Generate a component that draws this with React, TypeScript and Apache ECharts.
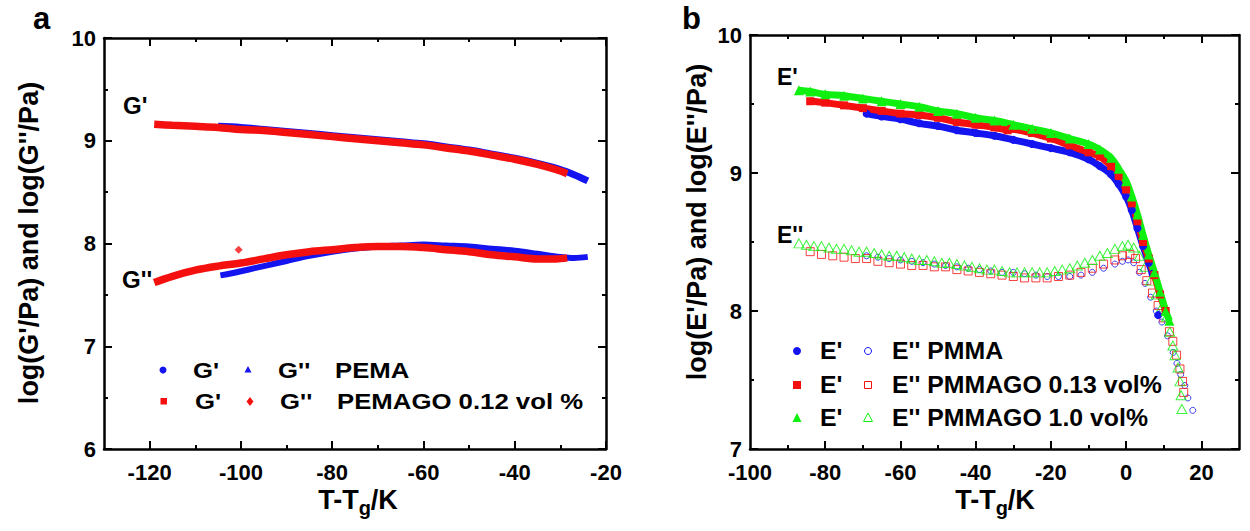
import React, { useEffect, useRef } from "react";
import * as echarts from "echarts";

const FONT = '"Liberation Sans", Arial, Helvetica, sans-serif';
const BLUE = "#1414f0";
const RED = "#f51010";
const GREEN = "#10f010";

// ---------------- Panel a (PEMA / PEMAGO) ----------------
const aXLabelValues = [-120, -100, -80, -60, -40, -20];
const aXMajorTicks = [-120, -100, -80, -60, -40, -20];
const aXMinorTicks = [-110, -90, -70, -50, -30];
const aXRange = [-130, -20];
const aYRange = [6, 10];

const pemaGp = [
  [-105, 9.14], [-100, 9.13], [-95, 9.11], [-90, 9.09], [-85, 9.07], [-80, 9.05],
  [-75, 9.03], [-70, 9.01], [-65, 8.99], [-60, 8.97], [-55, 8.94], [-50, 8.91],
  [-45, 8.87], [-40, 8.83], [-35, 8.78], [-30, 8.72], [-27, 8.67], [-24, 8.61],
];
const pemagoGp = [
  [-119, 9.16], [-115, 9.15], [-110, 9.14], [-105, 9.13], [-100, 9.11], [-95, 9.1],
  [-90, 9.08], [-85, 9.06], [-80, 9.04], [-75, 9.02], [-70, 9.0], [-65, 8.98],
  [-60, 8.96], [-55, 8.93], [-50, 8.9], [-45, 8.86], [-40, 8.82], [-35, 8.77],
  [-31, 8.72], [-28.5, 8.68],
];
const pemaGpp = [
  [-104.5, 7.69], [-102, 7.71], [-100, 7.73], [-97, 7.76], [-94, 7.79], [-90, 7.83],
  [-85, 7.88], [-80, 7.92], [-75, 7.95], [-70, 7.97], [-65, 7.98], [-60, 7.99],
  [-55, 7.98], [-50, 7.97], [-45, 7.95], [-40, 7.93], [-35, 7.9], [-30, 7.87],
  [-27, 7.86], [-24, 7.87],
];
const pemagoGpp = [
  [-119, 7.62], [-115, 7.68], [-110, 7.74], [-105, 7.78], [-100, 7.81], [-95, 7.85],
  [-90, 7.89], [-85, 7.92], [-80, 7.94], [-75, 7.96], [-70, 7.97], [-65, 7.97],
  [-60, 7.96], [-55, 7.94], [-50, 7.92], [-45, 7.89], [-40, 7.87], [-35, 7.85],
  [-31, 7.85], [-28.5, 7.86],
];
const pemagoGppOutlier = [[-100.5, 7.94]];

// ---------------- Panel b (PMMA / PMMAGO) ----------------
const bXLabelValues = [-100, -80, -60, -40, -20, 0, 20];
const bXMajorTicks = [-80, -60, -40, -20, 0, 20];
const bXMinorTicks = [-90, -70, -50, -30, -10, 10];
const bXRange = [-100, 30];
const bYRange = [7, 10];

const pmmaEp = [
  [-69, 9.43], [-65, 9.41], [-60, 9.39], [-55, 9.36], [-50, 9.34], [-45, 9.31],
  [-40, 9.29], [-35, 9.27], [-30, 9.24], [-25, 9.21], [-20, 9.18], [-15, 9.15],
  [-10, 9.1], [-7, 9.05], [-4, 8.99], [-2, 8.92], [0, 8.83], [1.5, 8.73],
  [3, 8.6], [4.5, 8.47], [6, 8.35], [7, 8.27], [7.8, null], [8.5, 7.97],
];
const go013Ep = [
  [-84, 9.52], [-80, 9.51], [-75, 9.49], [-70, 9.47], [-65, 9.45], [-60, 9.43],
  [-55, 9.42], [-50, 9.4], [-45, 9.37], [-40, 9.35], [-35, 9.33], [-31.5, 9.31],
  [-31, null], [-30.5, 9.32], [-25, 9.29], [-20, 9.25], [-15, 9.2], [-10, 9.15],
  [-7, 9.12], [-4, 9.05], [-2, 8.98], [0, 8.88], [1.5, 8.78], [3, 8.65],
  [4.5, 8.5], [6, 8.38], [7.5, 8.26], [9, 8.12], [10.5, 8.0],
];
const go10Ep = [
  [-87, 9.6], [-84, 9.59], [-80, 9.57], [-75, 9.56], [-70, 9.54], [-65, 9.52],
  [-60, 9.5], [-55, 9.48], [-50, 9.45], [-45, 9.43], [-40, 9.4], [-35, 9.38],
  [-30, 9.35], [-25, 9.32], [-20, 9.29], [-15, 9.25], [-10, 9.21], [-7, 9.17],
  [-4, 9.11], [-2, 9.03], [0, 8.94], [1.5, 8.83], [3, 8.7], [4.5, 8.55],
  [6, 8.41], [7.5, 8.28], [9, 8.14], [10.5, 8.0], [11.5, 7.93],
];
const pmmaEpp = [
  [-69, 8.4], [-66, 8.39], [-63, 8.38], [-60, 8.37], [-57, 8.36], [-54, 8.35],
  [-51, 8.34], [-48, 8.33], [-45, 8.32], [-42, 8.31], [-39, 8.3], [-36, 8.29],
  [-33, 8.28], [-30, 8.28], [-27, 8.27], [-24, 8.26], [-21, 8.25], [-18, 8.25],
  [-15, 8.25], [-12, 8.26], [-9, 8.28], [-6, 8.31], [-3, 8.34], [-1, 8.36],
  [0.5, 8.37], [2, 8.35], [3.5, 8.28], [5, 8.2], [6.5, 8.1], [8, 8.0],
  [9.5, 7.92], [11, 7.82], [12.5, 7.7], [13.5, 7.62], [14.5, 7.54], [15.6, 7.46],
  [16.4, 7.37], [17.7, 7.28],
];
const go013Epp = [
  [-84, 8.43], [-81, 8.41], [-78, 8.4], [-75, 8.39], [-72, 8.38], [-69, 8.38],
  [-66, 8.36], [-63, 8.35], [-60, 8.34], [-57, 8.33], [-54, 8.33], [-51, 8.32],
  [-48, 8.32], [-45, 8.3], [-42, 8.29], [-39, 8.28], [-36, 8.27], [-33, 8.26],
  [-30, 8.25], [-27, 8.24], [-24, 8.24], [-21, 8.24], [-18, 8.25], [-15, 8.26],
  [-12, 8.28], [-9, 8.31], [-6, 8.34], [-3, 8.37], [-1, 8.4], [1, 8.41],
  [2.5, 8.38], [4, 8.3], [5.5, 8.22], [7, 8.13], [8.5, 8.04], [10, 7.95],
  [11.5, 7.85], [12.4, 7.78], [13.4, 7.68], [14.3, 7.58], [15, 7.49], [15.3, 7.41],
];
const go10Epp = [
  [-87, 8.49], [-85, 8.48], [-83, 8.47], [-81, 8.47], [-79, 8.46], [-77, 8.45],
  [-75, 8.45], [-73, 8.44], [-71, 8.43], [-69, 8.43], [-67, 8.42], [-65, 8.41],
  [-63, 8.4], [-61, 8.4], [-59, 8.39], [-57, 8.38], [-55, 8.37], [-53, 8.37],
  [-51, 8.36], [-49, 8.35], [-47, 8.35], [-45, 8.34], [-43, 8.33], [-41, 8.32],
  [-39, 8.31], [-37, 8.3], [-35, 8.3], [-33, 8.29], [-31, 8.28], [-29, 8.28],
  [-27, 8.28], [-25, 8.28], [-23, 8.28], [-21, 8.28], [-19, 8.29], [-17, 8.3],
  [-15, 8.31], [-13, 8.33], [-11, 8.35], [-9, 8.37], [-7, 8.4], [-5, 8.42],
  [-3, 8.45], [-1, 8.47], [0.5, 8.48], [2, 8.46], [3.5, 8.4], [5, 8.32],
  [6.5, 8.22], [8, 8.12], [9.5, 8.03], [10.8, 7.96], [11.6, 7.85], [12.4, 7.75],
  [13, 7.68], [13.8, 7.59], [14.3, 7.49], [14.6, 7.39], [14.8, 7.29],
];

// legend / annotation texts
const aLegendRow1 = ["G'", "G''", "PEMA"];
const aLegendRow2 = ["G'", "G''", "PEMAGO 0.12 vol %"];
const bLegendRows = [
  ["E'", "E'' PMMA"],
  ["E'", "E'' PMMAGO 0.13 vol%"],
  ["E'", "E'' PMMAGO 1.0 vol%"],
];

function measure(text: string, size: number) {
  const ctx = document.createElement("canvas").getContext("2d")!;
  ctx.font = `bold ${size}px ${FONT}`;
  return ctx.measureText(text).width;
}

function txt(text: string, x: number, y: number, size: number, extra: any = {}) {
  const { align, ...rest } = extra;
  return {
    type: "text",
    x,
    y,
    z: 100,
    ...rest,
    style: {
      text,
      fill: "#000",
      fontFamily: FONT,
      fontWeight: "bold",
      fontSize: size,
      align: align || "left",
      verticalAlign: "middle",
    },
  };
}

function xTitle(cx: number, y: number) {
  const big = 27, small = 20;
  const w1 = measure("T-T", big), w2 = measure("g", small), w3 = measure("/K", big);
  const left = cx - (w1 + w2 + w3) / 2;
  return [
    txt("T-T", left, y, big),
    txt("g", left + w1, y + 8, small),
    txt("/K", left + w1 + w2, y, big),
  ];
}

const axisLineStyle = { color: "#000", width: 2.5 };
const tickLineStyle = { color: "#000", width: 2 };
const labelStyle = { color: "#000", fontFamily: FONT, fontWeight: "bold", fontSize: 22, lineHeight: 18 };

function xAxes(gridIndex: number, range: number[], majors: number[], minors: number[], labels: number[]) {
  const base = { type: "value", gridIndex, min: range[0], max: range[1], splitLine: { show: false } };
  const mk = (position: string, ticks: number[], len: number, withLine: boolean, withLabel: boolean) => ({
    ...base,
    position,
    axisLine: { show: withLine, onZero: false, lineStyle: axisLineStyle },
    axisTick: { show: true, inside: true, length: len, lineStyle: tickLineStyle, customValues: ticks },
    axisLabel: withLabel
      ? { show: true, margin: 14, customValues: labels, ...labelStyle }
      : { show: false },
  });
  return [
    mk("bottom", majors, 8, true, true),
    mk("bottom", minors, 4, false, false),
    mk("top", majors, 8, true, false),
    mk("top", minors, 4, false, false),
  ];
}

function yAxes(gridIndex: number, range: number[]) {
  const base = {
    type: "value",
    gridIndex,
    min: range[0],
    max: range[1],
    interval: 1,
    splitLine: { show: false },
    axisLine: { show: true, onZero: false, lineStyle: axisLineStyle },
    axisTick: { show: true, inside: true, length: 8, lineStyle: tickLineStyle },
    minorTick: { show: true, splitNumber: 2, length: 4, lineStyle: tickLineStyle },
  };
  return [
    { ...base, position: "left", axisLabel: { show: true, margin: 8, ...labelStyle, lineHeight: 16, padding: [0, 0, 5, 0] } },
    { ...base, position: "right", axisLabel: { show: false } },
  ];
}

export default function App() {
  const ref = useRef<HTMLDivElement>(null);

  useEffect(() => {
    document.body.style.margin = "0";
    const chart = echarts.init(ref.current!, null, { renderer: "svg" });

    const lineSeries = (data: any[], color: string, width: number, xi: number, yi: number, extra: any = {}) => ({
      type: "line",
      data,
      xAxisIndex: xi,
      yAxisIndex: yi,
      smooth: 0.35,
      symbol: "none",
      connectNulls: false,
      lineStyle: { color, width },
      itemStyle: { color },
      ...extra,
    });

    const openScatter = (data: any[], color: string, symbol: string, size: any) => ({
      type: "scatter",
      data,
      xAxisIndex: 4,
      yAxisIndex: 2,
      symbol,
      symbolSize: size,
      itemStyle: { color: "rgba(0,0,0,0)", borderColor: color, borderWidth: 1 },
    });

    const legA = { scaleX: 1.12 };
    const legB = { scaleX: 1.08 };

    const graphics: any[] = [
      // panel letters
      txt("a", 33, 18, 31),
      txt("b", 682, 18, 31),
      // in-plot labels
      txt("G'", 123, 105, 24),
      txt("G''", 122, 279, 24),
      txt("E'", 777, 77, 23),
      txt("E''", 777, 235, 23),
      // axis titles
      txt("log(G'/Pa) and log(G''/Pa)", 29, 243, 27, { rotation: Math.PI / 2, align: "center" }),
      txt("log(E'/Pa) and log(E''/Pa)", 697, 222, 27, { rotation: Math.PI / 2, align: "center" }),
      ...xTitle(358, 500),
      ...xTitle(995, 500),
      // panel a legend
      { type: "circle", z: 100, shape: { cx: 163, cy: 370, r: 3.5 }, style: { fill: BLUE } },
      { type: "polygon", z: 100, shape: { points: [[248, 366], [244.5, 372.5], [251.5, 372.5]] }, style: { fill: BLUE } },
      { type: "rect", z: 100, shape: { x: 160.5, y: 398, width: 6.5, height: 6.5 }, style: { fill: RED } },
      { type: "polygon", z: 100, shape: { points: [[250, 397], [253.5, 401.5], [250, 406], [246.5, 401.5]] }, style: { fill: RED } },
      txt(aLegendRow1[0], 193, 370, 23, legA),
      txt(aLegendRow1[1], 278, 370, 23, legA),
      txt(aLegendRow1[2], 335, 370, 23, legA),
      txt(aLegendRow2[0], 195, 401, 23, legA),
      txt(aLegendRow2[1], 280, 401, 23, legA),
      txt(aLegendRow2[2], 337, 401, 23, legA),
      // panel b legend
      { type: "circle", z: 100, shape: { cx: 797, cy: 351, r: 4 }, style: { fill: BLUE } },
      { type: "rect", z: 100, shape: { x: 793, y: 381, width: 8, height: 8 }, style: { fill: RED } },
      { type: "polygon", z: 100, shape: { points: [[797, 413], [792.5, 422], [801.5, 422]] }, style: { fill: GREEN } },
      { type: "circle", z: 100, shape: { cx: 868, cy: 351, r: 3.5 }, style: { fill: "none", stroke: BLUE, lineWidth: 1 } },
      { type: "rect", z: 100, shape: { x: 864.5, y: 381.5, width: 7, height: 7 }, style: { fill: "none", stroke: RED, lineWidth: 1 } },
      { type: "polygon", z: 100, shape: { points: [[868, 413], [863.5, 421.5], [872.5, 421.5]] }, style: { fill: "none", stroke: GREEN, lineWidth: 1 } },
      ...bLegendRows.flatMap((row, i) => [
        txt(row[0], 820, 351 + i * 33.5, 23, legB),
        txt(row[1], 892, 351 + i * 33.5, 23, legB),
      ]),
    ];

    const option: any = {
      animation: false,
      backgroundColor: "#fff",
      grid: [
        { left: 104, top: 38, width: 502, height: 411, outerBoundsMode: "none", containLabel: false },
        { left: 750, top: 35, width: 489, height: 414, outerBoundsMode: "none", containLabel: false },
      ],
      xAxis: [
        ...xAxes(0, aXRange, aXMajorTicks, aXMinorTicks, aXLabelValues),
        ...xAxes(1, bXRange, bXMajorTicks, bXMinorTicks, bXLabelValues),
      ],
      yAxis: [...yAxes(0, aYRange), ...yAxes(1, bYRange)],
      series: [
        // panel a
        lineSeries(pemaGp, BLUE, 7, 0, 0),
        lineSeries(pemaGpp, BLUE, 6, 0, 0),
        lineSeries(pemagoGp, RED, 7.5, 0, 0),
        lineSeries(pemagoGpp, RED, 7.5, 0, 0),
        {
          type: "scatter",
          data: pemagoGppOutlier,
          xAxisIndex: 0,
          yAxisIndex: 0,
          symbol: "diamond",
          symbolSize: 8,
          itemStyle: { color: RED },
        },
        // panel b: E'' open symbols
        openScatter(pmmaEpp, BLUE, "circle", 6),
        openScatter(go013Epp, RED, "rect", 8),
        openScatter(go10Epp, GREEN, "triangle", [10, 9]),
        // panel b: E' filled
        lineSeries(pmmaEp, BLUE, 7, 4, 2, { symbol: "circle", symbolSize: 8, showSymbol: true, showAllSymbol: true }),
        lineSeries(go013Ep, RED, 7, 4, 2, { symbol: "rect", symbolSize: 8, showSymbol: true, showAllSymbol: true }),
        lineSeries(go10Ep, GREEN, 7, 4, 2, { symbol: "triangle", symbolSize: 10, showSymbol: true, showAllSymbol: true }),
      ],
      graphic: graphics,
    };

    chart.setOption(option);
    return () => chart.dispose();
  }, []);

  return <div ref={ref} style={{ width: 1250, height: 531, position: "absolute", left: 0, top: 0 }} />;
}
